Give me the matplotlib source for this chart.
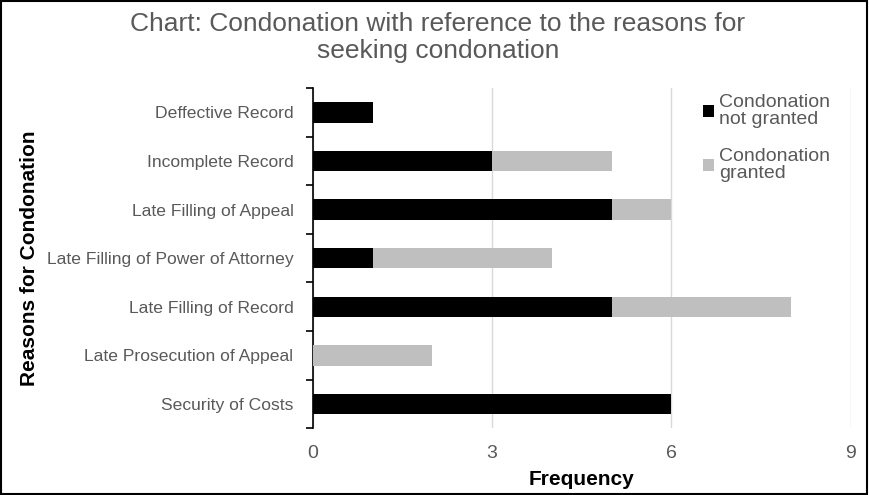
import matplotlib.pyplot as plt
from matplotlib.patches import Rectangle

reasons = ["Deffective Record", "Incomplete Record", "Late Filling of Appeal",
           "Late Filling of Power of Attorney", "Late Filling of Record",
           "Late Prosecution of Appeal", "Security of Costs"]
not_granted = [1, 3, 5, 1, 5, 0, 6]
granted = [0, 2, 1, 3, 3, 2, 0]
xticks = [0, 3, 6, 9]

plt.rcParams['font.family'] = ['Liberation Sans', 'DejaVu Sans']

fig = plt.figure(figsize=(8.69, 4.95), dpi=100)
ax = fig.add_axes([0.360, 0.135, 0.619, 0.687])

pos = list(range(len(reasons)))
ax.barh(pos, not_granted, height=0.42, color="black", label="Condonation\nnot granted", zorder=3)
ax.barh(pos, granted, left=not_granted, height=0.42, color="#bfbfbf", label="Condonation\ngranted", zorder=3)

ax.set_ylim(len(reasons) - 0.5, -0.5)
ax.set_xlim(0, 9)
ax.set_xticks(xticks)
ax.set_yticks(pos)
ax.set_yticklabels(reasons, color="#595959", fontsize=12.6)
ax.set_yticks([p - 0.5 for p in pos] + [len(reasons) - 0.5], minor=True)
ax.tick_params(axis="y", which="major", length=0, pad=14)
ax.tick_params(axis="y", which="minor", length=5, width=1.2, color="black", direction="out")
ax.tick_params(axis="x", length=0, labelsize=14, labelcolor="#595959", pad=12)
ax.grid(axis="x", color="#d9d9d9", linewidth=1, zorder=0)
for s in ["top", "right", "bottom"]:
    ax.spines[s].set_visible(False)
ax.spines["left"].set_linewidth(1.2)

ax.set_xlabel("Frequency", fontsize=15, fontweight="bold", labelpad=6)
ax.set_ylabel("Reasons for Condonation", fontsize=15, fontweight="bold")
ax.yaxis.set_label_coords(-0.51, 0.5)

fig.text(0.504, 0.975, "Chart: Condonation with reference to the reasons for\nseeking condonation",
         ha="center", va="top", fontsize=19, color="#595959", linespacing=1.15)

leg = ax.legend(loc="upper left", bbox_to_anchor=(0.692, 1.035), frameon=False, fontsize=14,
                handlelength=0.6, handleheight=0.6, handletextpad=0.25, labelspacing=1.0)
for t in leg.get_texts():
    t.set_color("#595959")
    t.set_linespacing(1.05)

fig.patches.append(Rectangle((0.001, 0.002), 0.997, 0.996, transform=fig.transFigure,
                             fill=False, edgecolor="black", linewidth=1.5))

fig.savefig("out.png", dpi=100)
